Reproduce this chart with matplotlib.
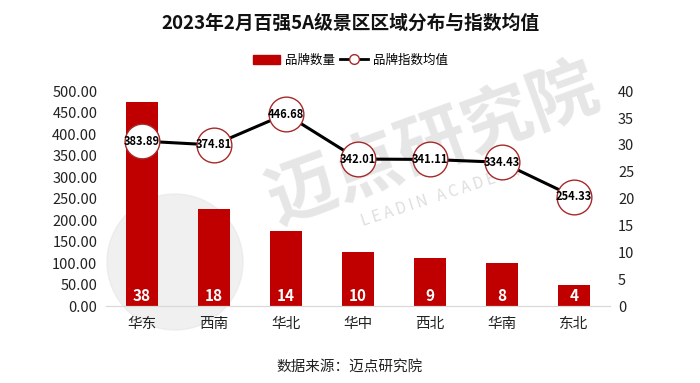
import matplotlib.pyplot as plt
import numpy as np
from matplotlib.patches import Patch, Ellipse
from matplotlib.lines import Line2D

plt.rcParams['font.family'] = ['Noto Sans CJK SC', 'DejaVu Sans']

regions = ['华东', '西南', '华北', '华中', '西北', '华南', '东北']
brand_count = [38, 18, 14, 10, 9, 8, 4]
index_avg = [383.89, 374.81, 446.68, 342.01, 341.11, 334.43, 254.33]

red = '#C00000'

fig = plt.figure(figsize=(7, 3.83), dpi=100)
ax = fig.add_axes([0.151, 0.201, 0.72, 0.561])
ax2 = ax.twinx()

x = np.arange(len(regions))

# faint watermark behind everything
fig.text(0.62, 0.62, '迈点研究院', fontsize=50, color='#c8c8c8', alpha=0.45,
         rotation=20, ha='center', va='center', fontweight='bold', zorder=-2)
fig.text(0.63, 0.49, 'L E A D I N   A C A D E M Y', fontsize=11, color='#c8c8c8',
         alpha=0.6, rotation=18, ha='center', va='center', zorder=-2)
fig.add_artist(Ellipse((175 / 700, 1 - 262 / 383), 2 * 68 / 700, 2 * 68 / 383,
                       transform=fig.transFigure, color='#e6e6e6', alpha=0.6,
                       zorder=-2))

# bars on the right axis (counts)
ax2.bar(x, brand_count, width=0.44, color=red, zorder=2)
for xi, v in zip(x, brand_count):
    ax2.text(xi, 1.9, str(v), ha='center', va='center', color='white',
             fontsize=11, fontweight='bold', zorder=3)

# line on the left axis (index), drawn above bars
ax.set_zorder(ax2.get_zorder() + 1)
ax.patch.set_visible(False)
ax2.patch.set_visible(False)
ax.plot(x, index_avg, color='black', lw=2.2, zorder=3,
        marker='o', markersize=25, markerfacecolor='white',
        markeredgecolor='#a52a2a', markeredgewidth=1.0)
for xi, v in zip(x, index_avg):
    ax.text(xi, v, f'{v:.2f}', ha='center', va='center', fontsize=8,
            fontweight='bold', color='black', zorder=4)

ax.set_ylim(0, 500)
ax.set_yticks(np.arange(0, 501, 50))
ax.set_yticklabels([f'{t:.2f}' for t in np.arange(0, 501, 50)])
ax2.set_ylim(0, 40)
ax2.set_yticks(np.arange(0, 41, 5))
ax.set_xlim(-0.5, len(regions) - 0.5)
ax.set_xticks(x)
ax.set_xticklabels(regions)

for a in (ax, ax2):
    for s in ['top', 'left', 'right']:
        a.spines[s].set_visible(False)
    a.spines['bottom'].set_color('#d9d9d9')
    a.tick_params(length=0, labelsize=10.5, colors='#222222')
ax.tick_params(axis='x', pad=8)
ax.tick_params(axis='y', pad=6)
ax2.tick_params(axis='y', pad=6)

fig.text(0.5, 0.94, '2023年2月百强5A级景区区域分布与指数均值', ha='center',
         va='center', fontsize=13.5, fontweight='bold', color='#111111')

# legend
handles = [Patch(color=red),
           Line2D([0], [0], color='black', lw=2, marker='o', markersize=7,
                  markerfacecolor='white', markeredgecolor='#a52a2a')]
fig.legend(handles, ['品牌数量', '品牌指数均值'], loc='center',
           bbox_to_anchor=(0.5, 0.843), ncol=2, frameon=False, fontsize=9,
           handlelength=2.2, columnspacing=0.4, handletextpad=0.4)

fig.text(0.5, 0.04, '数据来源：迈点研究院', ha='center', va='center',
         fontsize=10.5, color='#222222')

fig.savefig('out.png', dpi=100)
